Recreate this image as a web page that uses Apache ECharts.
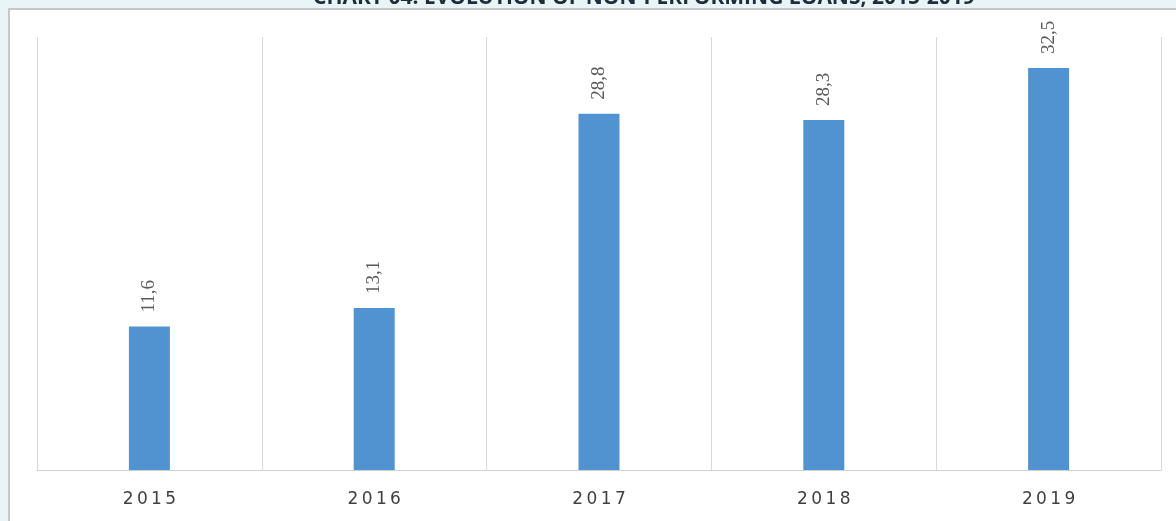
<!DOCTYPE html>
<html><head><meta charset="utf-8">
<script src="https://cdn.jsdelivr.net/npm/echarts@6/dist/echarts.min.js"></script>
<style>html,body{margin:0;padding:0;background:#e8f4f6;}#c{width:1176px;height:521px;}</style>
</head><body><div id="c"></div>
<script>
const titleText = "CHART 04: EVOLUTION OF NON-PERFORMING LOANS, 2015-2019";
const categories = ["2015", "2016", "2017", "2018", "2019"];
const values = [11.6, 13.1, 28.8, 28.3, 32.5];

const chart = echarts.init(document.getElementById('c'));
chart.setOption({
  backgroundColor: '#e8f4f6',
  animation: false,
  graphic: [
    {type: 'rect', left: 8, top: 8, shape: {width: 1168, height: 513}, style: {fill: '#ffffff', stroke: '#c8c8c8', lineWidth: 2}, z: -10},
    {type: 'text', left: 313, top: -12, style: {text: titleText, font: 'bold 21px "Open Sans", sans-serif', fill: '#1f2d3a'}, z: 10}
  ],
  grid: {left: 37, right: 15, top: 37, bottom: 51},
  xAxis: {
    type: 'category', data: categories,
    axisLine: {lineStyle: {color: '#d0d0d0', width: 1}},
    axisTick: {show: false},
    splitLine: {show: true, lineStyle: {color: '#d9d9d9', width: 1}},
    axisLabel: {
      color: '#404040', fontSize: 17, fontFamily: 'DejaVu Sans', margin: 21,
      formatter: v => v.split('').join('\u2009')
    }
  },
  yAxis: {type: 'value', min: 0, max: 35, show: false, splitLine: {show: false}},
  series: [{
    type: 'bar', data: values, barWidth: 41, barGap: '0%',
    itemStyle: {color: '#5093d0'},
    label: {
      show: true, position: 'top', rotate: 90, distance: 14,
      align: 'left', verticalAlign: 'middle',
      color: '#5a5a5a', fontSize: 19, fontFamily: '"Liberation Serif", serif',
      formatter: p => p.value.toFixed(1).replace('.', ',')
    }
  }]
});
</script></body></html>
